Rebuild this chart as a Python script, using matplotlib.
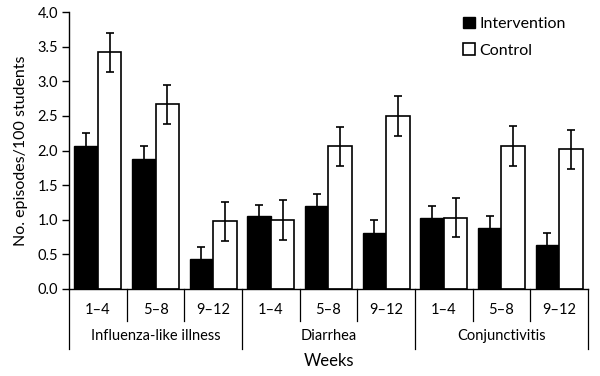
import numpy as np
from matplotlib import pyplot as plt
import matplotlib.transforms as mtransforms

plt.rcParams['font.family'] = ['Lato', 'DejaVu Sans']

weeks = ["1–4", "5–8", "9–12"] * 3
diseases = ["Influenza-like illness", "Diarrhea", "Conjunctivitis"]

intervention = [2.07, 1.88, 0.44, 1.05, 1.20, 0.81, 1.02, 0.88, 0.64]
intervention_err = [0.18, 0.18, 0.17, 0.17, 0.17, 0.18, 0.18, 0.18, 0.17]
control = [3.42, 2.67, 0.98, 1.00, 2.06, 2.50, 1.03, 2.07, 2.02]
control_err = [0.28, 0.28, 0.28, 0.29, 0.28, 0.29, 0.28, 0.29, 0.28]


def main():
    fig = plt.figure(figsize=[6, 3.76], dpi=100)
    ax = fig.add_axes([0.115, 0.2314, 0.865, 0.7366])

    x = np.arange(len(weeks))
    w = 0.405
    ekw = dict(ecolor="black", elinewidth=1.2, capsize=3.2, capthick=1.2)
    ax.bar(x - w / 2, intervention, w, color="black", edgecolor="black",
           linewidth=1.0, yerr=intervention_err, error_kw=ekw, label="Intervention")
    ax.bar(x + w / 2, control, w, color="white", edgecolor="black",
           linewidth=1.2, yerr=control_err, error_kw=ekw, label="Control")

    ax.set_xlim(-0.5, len(weeks) - 0.5)
    ax.set_ylim(0, 4.0)
    ticks = np.arange(0, 4.01, 0.5)
    ax.set_yticks(ticks)
    ax.set_yticklabels([f"{v:.1f}" for v in ticks], fontsize=10.5)
    ax.tick_params(axis="y", length=5, width=1, pad=3)
    ax.set_xticks(x)
    ax.set_xticklabels(weeks, fontsize=10.5)
    ax.tick_params(axis="x", length=0, pad=10)

    for s in ["top", "right"]:
        ax.spines[s].set_visible(False)
    ax.spines["left"].set_linewidth(1)
    ax.spines["bottom"].set_linewidth(1)

    # group separators below the axis
    trans = mtransforms.blended_transform_factory(ax.transData, ax.transAxes)
    for i in range(len(weeks) + 1):
        xs = i - 0.5
        bottom = -0.217 if i % 3 == 0 else -0.116
        ax.plot([xs, xs], [0, bottom], transform=trans, color="black",
                linewidth=0.9, clip_on=False)

    for j, name in enumerate(diseases):
        ax.text(3 * j + 1, -0.17, name, transform=trans, ha="center",
                va="center", fontsize=10.5)

    ax.set_ylabel("No. episodes/100 students", fontsize=11.5, labelpad=7)
    fig.text(0.5475, 0.04, "Weeks", ha="center", va="center", fontsize=12)

    ax.legend(loc="upper right", bbox_to_anchor=(0.985, 1.035), frameon=False,
              fontsize=11.5, handlelength=0.75, handleheight=0.75,
              handletextpad=0.3, labelspacing=0.75)

    fig.savefig("out.png", dpi=100)


if __name__ == '__main__':
    main()
